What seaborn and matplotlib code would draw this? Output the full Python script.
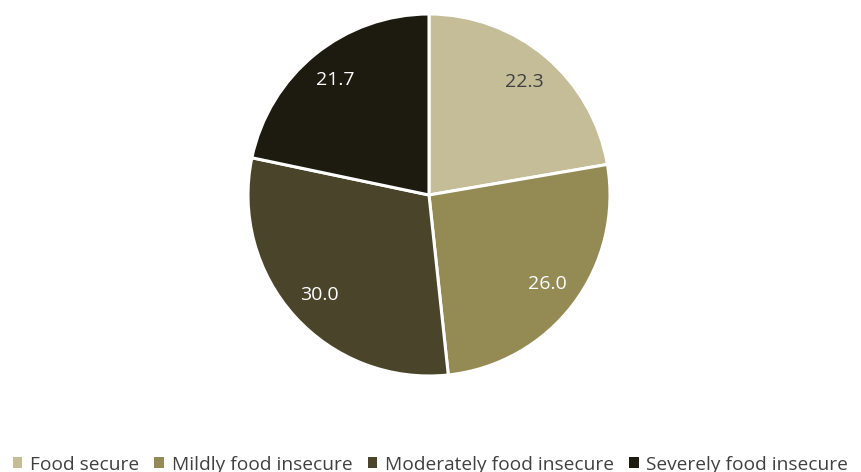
import matplotlib
matplotlib.use("Agg")
import matplotlib.pyplot as plt
import seaborn as sns
from matplotlib.patches import Patch

sns.set_theme(style="white")
plt.rcParams['font.family'] = ['Open Sans', 'DejaVu Sans']

categories = ["Food secure", "Mildly food insecure", "Moderately food insecure", "Severely food insecure"]
values = [22.3, 26.0, 30.0, 21.7]
colors = ["#C4BD97", "#948A54", "#4A452A", "#1D1B10"]
text_colors = ["#404040", "white", "white", "white"]

fig = plt.figure(figsize=(8.61, 4.72), dpi=100)
ax = fig.add_axes([248/861, 96/472, 362/861, 362/472])

wedges, texts, autotexts = ax.pie(
    values, colors=colors, startangle=90, counterclock=False,
    autopct=lambda p: f"{p:.1f}", pctdistance=0.82,
    wedgeprops=dict(edgecolor="white", linewidth=2.2),
    textprops=dict(fontsize=14), radius=1.0,
)
for t, c in zip(autotexts, text_colors):
    t.set_color(c)
ax.set_aspect("equal")
ax.set_xlim(-1.0, 1.0)
ax.set_ylim(-1.0, 1.0)

handles = [Patch(facecolor=c, edgecolor="none") for c in colors]
fig.legend(handles, categories, loc="lower center", bbox_to_anchor=(0.5, -0.04),
           ncol=4, frameon=False, fontsize=13.8, handlelength=0.5, handleheight=0.5,
           handletextpad=0.4, columnspacing=0.8, labelcolor="#404040")

fig.savefig("out.png", dpi=100)
